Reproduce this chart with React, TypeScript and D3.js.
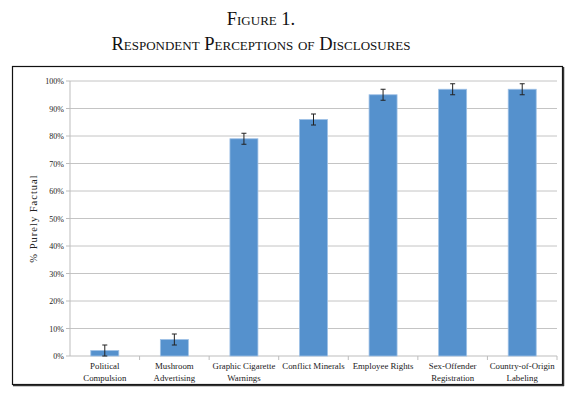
import React from "react";
import * as d3 from "d3";

const categories: string[][] = [
  ["Political", "Compulsion"],
  ["Mushroom", "Advertising"],
  ["Graphic Cigarette", "Warnings"],
  ["Conflict Minerals"],
  ["Employee Rights"],
  ["Sex-Offender", "Registration"],
  ["Country-of-Origin", "Labeling"],
];
const values: number[] = [2, 6, 79, 86, 95, 97, 97];
const errors: number[] = [2, 2, 2, 2, 2, 2, 2];
const yTicks: number[] = [0, 10, 20, 30, 40, 50, 60, 70, 80, 90, 100];

const W = 576;
const H = 398;
const left = 70;
const right = 557;
const top = 81;
const bottom = 356;
const serif = "'Liberation Serif', 'DejaVu Serif', serif";

export default function App() {
  const x = d3
    .scaleBand<number>()
    .domain(values.map((_, i) => i))
    .range([left, right]);
  const y = d3.scaleLinear().domain([0, 100]).range([bottom, top]);
  const catW = x.step();
  const bandStart = (i: number) => left + i * catW;
  const bw = 28;
  const cx = (i: number) => (x(i) as number) + catW / 2;

  return (
    <svg width={W} height={H} style={{ position: "absolute", left: 0, top: 0, background: "#fff" }}>
      <text x={261} y={25} textAnchor="middle" fontFamily={serif} fontSize={18.5} style={{ fontVariant: "small-caps" }} fill="#111">
        Figure 1.
      </text>
      <text x={261} y={50} textAnchor="middle" fontFamily={serif} fontSize={18.5} style={{ fontVariant: "small-caps" }} fill="#111">
        Respondent Perceptions of Disclosures
      </text>
      {/* frame */}
      <rect x={12.5} y={66.5} width={550} height={318} fill="#fff" stroke="#111" strokeWidth={1.2} />
      <line x1={563.5} y1={67} x2={563.5} y2={386} stroke="#333" strokeWidth={1.5} />
      <line x1={13} y1={385.5} x2={564} y2={385.5} stroke="#333" strokeWidth={1.5} />
      {/* gridlines */}
      {yTicks.map((t) => (
        <g key={t}>
          {t > 0 && <line x1={left} x2={right} y1={y(t)} y2={y(t)} stroke="#c4c4c4" strokeWidth={1} />}
          <line x1={left - 4} x2={left} y1={y(t)} y2={y(t)} stroke="#bdbdbd" strokeWidth={1} />
          <text x={left - 6} y={y(t) + 3} textAnchor="end" fontFamily={serif} fontSize={8} fill="#222">
            {t}%
          </text>
        </g>
      ))}
      <line x1={left} x2={left} y1={top} y2={bottom} stroke="#bdbdbd" strokeWidth={1} />
      <line x1={left} x2={right} y1={bottom} y2={bottom} stroke="#bdbdbd" strokeWidth={1} />
      {values.map((_, i) => (
        <line key={"t" + i} x1={bandStart(i + 1)} x2={bandStart(i + 1)} y1={bottom} y2={bottom + 4} stroke="#bdbdbd" />
      ))}
      <text
        transform={`translate(37,${(top + bottom) / 2}) rotate(-90)`}
        textAnchor="middle"
        fontFamily={serif}
        fontSize={10.5}
        letterSpacing={1}
        fill="#222"
      >
        % Purely Factual
      </text>
      {values.map((v, i) => (
        <g key={i}>
          <rect
            x={cx(i) - bw / 2}
            y={y(v)}
            width={bw}
            height={bottom - y(v)}
            fill="#5591cd"
            stroke="#9fc1e6"
            strokeWidth={0.8}
          />
          <line x1={cx(i)} x2={cx(i)} y1={y(v + errors[i])} y2={y(v - errors[i])} stroke="#222" strokeWidth={1} />
          <line x1={cx(i) - 2.5} x2={cx(i) + 2.5} y1={y(v + errors[i])} y2={y(v + errors[i])} stroke="#222" strokeWidth={1} />
          <line x1={cx(i) - 2.5} x2={cx(i) + 2.5} y1={y(v - errors[i])} y2={y(v - errors[i])} stroke="#222" strokeWidth={1} />
          {categories[i].map((l, j) => (
            <text key={j} x={cx(i)} y={369 + j * 11.5} textAnchor="middle" fontFamily={serif} fontSize={8.8} fill="#222">
              {l}
            </text>
          ))}
        </g>
      ))}
    </svg>
  );
}
